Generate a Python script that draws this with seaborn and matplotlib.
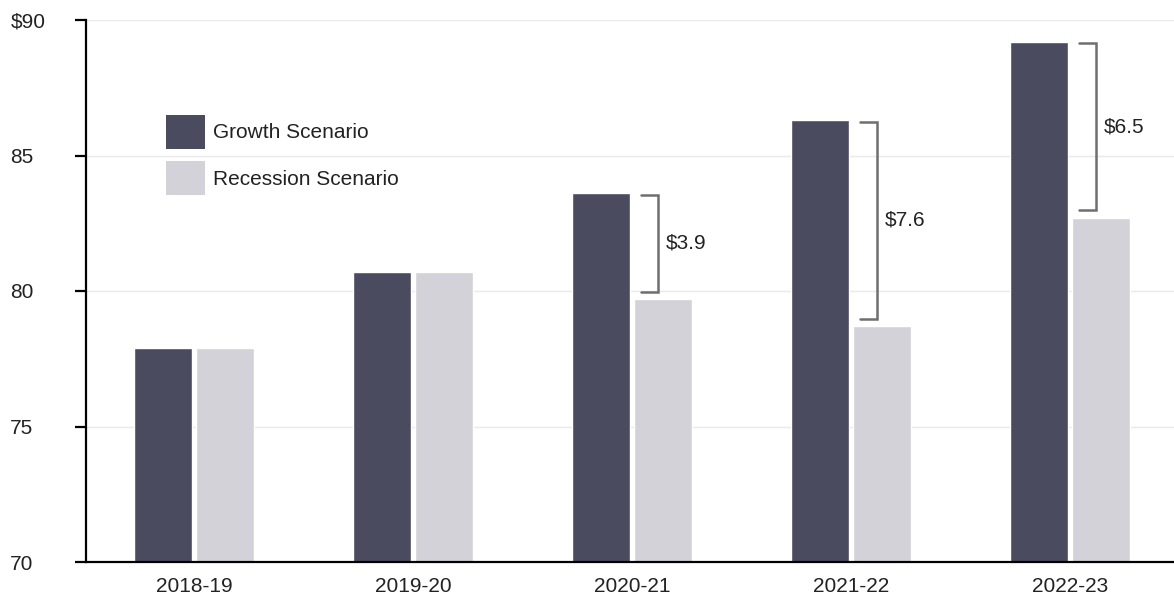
import matplotlib
matplotlib.use("Agg")
import matplotlib.pyplot as plt
from matplotlib.patches import Patch
import pandas as pd
import seaborn as sns

# Fiscal years and scenario values (billions of dollars)
years = ["2018-19", "2019-20", "2020-21", "2021-22", "2022-23"]
growth = [77.9, 80.7, 83.6, 86.3, 89.2]
recession = [77.9, 80.7, 79.7, 78.7, 82.7]
series_names = ["Growth Scenario", "Recession Scenario"]
gap_labels = ["", "", "$3.9", "$7.6", "$6.5"]
ytick_values = [70, 75, 80, 85, 90]
ytick_labels = ["70", "75", "80", "85", "$90"]

colors = {"Growth Scenario": "#4b4b5f", "Recession Scenario": "#d3d2d8"}
text_color = "#222222"
fs = 15

df = pd.DataFrame({
    "year": years * 2,
    "value": growth + recession,
    "scenario": [series_names[0]] * len(years) + [series_names[1]] * len(years),
})

sns.set_style("white")
plt.rcParams["font.family"] = ["Liberation Sans", "DejaVu Sans"]

fig = plt.figure(figsize=(11.74, 5.97), dpi=100)
W, H = 1174, 597
ax = fig.add_axes([86 / W, 1 - 562 / H, (1174 - 86) / W, (562 - 20) / H])

# Light horizontal grid behind the bars
for v in ytick_values[1:]:
    ax.axhline(v, color="#e9e9e9", lw=1.0, zorder=0)

sns.barplot(data=df, x="year", y="value", hue="scenario", palette=colors,
            order=years, hue_order=series_names, width=0.56, gap=0.05,
            saturation=1, legend=False, ax=ax, zorder=2)

ax.set_ylim(70, 90)
ax.set_xlim(-0.493, 4.475)
ax.set_xlabel("")
ax.set_ylabel("")

# Axes styling
for side in ["top", "right"]:
    ax.spines[side].set_visible(False)
for side in ["left", "bottom"]:
    ax.spines[side].set_color("black")
    ax.spines[side].set_linewidth(1.6)
    ax.spines[side].set_zorder(3)

ax.set_yticks(ytick_values)
ax.set_yticklabels(ytick_labels)
ax.tick_params(axis="y", length=8, width=1.6, color="black", pad=46.5,
               labelsize=fs, labelcolor=text_color, left=True)
for lbl in ax.get_yticklabels():
    lbl.set_horizontalalignment("left")
ax.tick_params(axis="x", length=0, pad=10.5, labelsize=fs, labelcolor=text_color)

# Brackets showing the gap between the two scenarios
bracket_color = "#6f6f6f"
for i, (g, r, lab) in enumerate(zip(growth, recession, gap_labels)):
    if not lab:
        continue
    top = g - 0.05
    bottom = r + 0.28
    x0 = i + 0.04
    x1 = i + 0.12
    ax.plot([x0, x1, x1, x0], [top, top, bottom, bottom],
            color=bracket_color, lw=1.8, solid_joinstyle="miter", zorder=4)
    ax.text(i + 0.155, (top + bottom) / 2, lab, ha="left", va="center",
            fontsize=fs, color=text_color, parse_math=False)

# Legend with large square swatches
handles = [Patch(facecolor=colors[n], edgecolor="none") for n in series_names]
ax.legend(handles, series_names, loc="upper left",
          bbox_to_anchor=(166 / W, 1 - 115 / H), bbox_transform=fig.transFigure,
          frameon=False, fontsize=fs, handlelength=1.87, handleheight=2.1,
          handletextpad=0.38, labelspacing=0.62, borderpad=0, borderaxespad=0,
          labelcolor=text_color)

fig.savefig("out.png", dpi=100)
